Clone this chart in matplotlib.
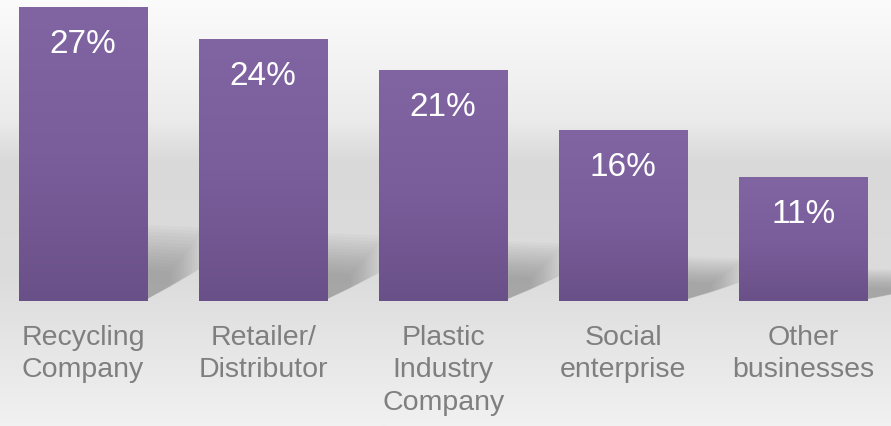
import matplotlib.pyplot as plt
import numpy as np
from matplotlib.colors import LinearSegmentedColormap
from matplotlib.patches import Polygon

# data
categories = ["Recycling\nCompany", "Retailer/\nDistributor", "Plastic\nIndustry\nCompany",
              "Social\nenterprise", "Other\nbusinesses"]
shares = [27.0, 24.1, 21.2, 15.7, 11.4]
share_labels = ["27%", "24%", "21%", "16%", "11%"]

bar_w = 0.711
label_font = ["Liberation Sans", "DejaVu Sans"]

fig = plt.figure(figsize=(8.91, 4.26), dpi=100)
ax = fig.add_axes([0, 0, 1, 1])
ax.axis("off")

# background: light grey band, fading to white at the bottom
bg = LinearSegmentedColormap.from_list(
    "bg", [(0.0, "#f1f1f1"), (0.35, "#dcdcdc"), (0.62, "#d9d9d9"), (0.72, "#ebebeb"), (1.0, "#fbfbfb")])
grad = np.linspace(0, 1, 256).reshape(-1, 1)
ax.imshow(grad, cmap=bg, extent=[-0.461, 4.486, 27.74, -11.5], aspect="auto", zorder=0)

# soft floor shadows to the right of each bar
x = np.arange(len(shares))
n = 14
for xi, h in zip(x, shares):
    xr = xi + bar_w / 2
    for k in range(n):
        s = 1 - k * 0.045
        pts = [(xr, 0.2), (xr, 0.26 * h * s), (xr + 0.32 * s, 0.25 * h * s),
               (xr + 0.32 * s, 0.12 * h * s)]
        ax.add_patch(Polygon(pts, closed=True, facecolor="#707070", edgecolor="none",
                             alpha=0.045, zorder=1))

# purple bars with a vertical gradient
purple = LinearSegmentedColormap.from_list("pu", ["#6a5088", "#7a5e9c", "#8065a2"])
for xi, h, lab in zip(x, shares, share_labels):
    ax.imshow(grad, cmap=purple, extent=[xi - bar_w / 2, xi + bar_w / 2, 0, h],
              aspect="auto", zorder=2, origin="lower")
    ax.text(xi, h - 3.4, lab, ha="center", va="center", color="white",
            fontsize=24, family=label_font, zorder=3)

for xi, cat in zip(x, categories):
    ax.text(xi, -2.2, cat, ha="center", va="top", color="#7f7f7f",
            fontsize=20.5, family=label_font, linespacing=1.32, zorder=3)

ax.set_xlim(-0.461, 4.486)
ax.set_ylim(-11.5, 27.74)
fig.savefig("out.png", dpi=100)
